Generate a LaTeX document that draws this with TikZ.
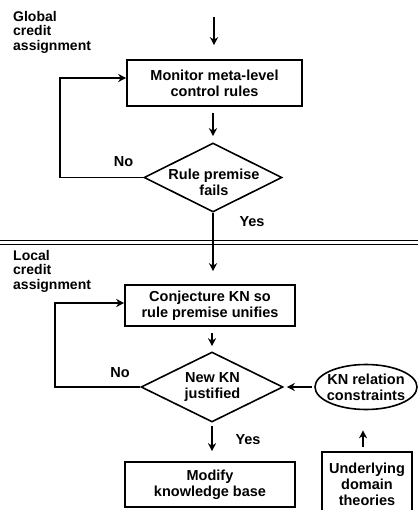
\documentclass[tikz,border=0pt]{standalone}
\usepackage{fontspec}
\setmainfont{Liberation Sans}
\usetikzlibrary{shapes.geometric,arrows.meta,calc}
\begin{document}
\begin{tikzpicture}[x=1pt,y=-1pt,
  every node/.style={font=\fontsize{14.5}{16}\selectfont\bfseries, align=center, inner sep=0pt},
  procbox/.style={draw, line width=1.6pt, rectangle},
  decbox/.style={draw, line width=1.6pt, diamond},
  ellbox/.style={draw, line width=1.6pt, ellipse},
  lbl/.style={align=left, anchor=north west, font=\fontsize{14}{14.5}\selectfont\bfseries},
  arr/.style={line width=1.5pt, -{Stealth[length=8pt,width=8pt,inset=2.5pt]}},
  sep/.style={line width=1.8pt}
]
\useasboundingbox (0,0) rectangle (418,510);

% labels
\node[lbl] (glab) at (13,11) {Global\\credit\\assignment};
\node[lbl] (llab) at (13,250) {Local\\credit\\assignment};

% top section
\coordinate (start) at (214,17);
\node[procbox, minimum width=175pt, minimum height=46pt] (b1) at (214.5,83) {Monitor meta-level\\control rules};
\node[decbox, minimum width=138pt, minimum height=69pt] (d1) at (213,177.5) {};
\node (d1t) at (214,182.5) {Rule premise\\fails};
\node (no1) at (123.5,162) {No};
\node (yes1) at (252,222) {Yes};

% separator
\coordinate (sl1) at (0,240.5);
\coordinate (sr1) at (418,240.5);
\coordinate (sl2) at (0,244.5);
\coordinate (sr2) at (418,244.5);
\draw[sep] (sl1) -- (sr1);
\draw[sep] (sl2) -- (sr2);

% bottom section
\node[procbox, minimum width=170pt, minimum height=41pt] (b2) at (210,305.5) {Conjecture KN so\\rule premise unifies};
\node[decbox, minimum width=142pt, minimum height=70pt] (d2) at (212,387) {};
\node (d2t) at (212.5,387) {New KN\\justified};
\node (no2) at (120,373) {No};
\node (yes2) at (248,440) {Yes};
\node[ellbox, minimum width=102pt, minimum height=45pt] (e1) at (366,387) {};
\node (e1t) at (e1.center) {KN relation\\constraints};
\node[procbox, minimum width=170pt, minimum height=45pt] (b3) at (210,484.5) {Modify\\knowledge base};
\node[procbox, minimum width=90pt, minimum height=61pt] (b4) at (367,482.5) {};
\node (b4t) at (367,484) {Underlying\\domain\\theories};

% connectors
\draw[arr, shorten >=14pt] (start) -- (b1.north -| start);
\draw[arr, shorten <=6pt, shorten >=6pt] (b1.south -| d1) -- (d1.north);
\draw[arr] (d1.west) -- ++(-83,0) |- ($(b1.west)+(0,-5)$);
\draw[arr, shorten >=13pt] (d1.south) -- (b2.north -| d1.south);
\draw[arr, shorten <=6pt, shorten >=5pt] (b2.south -| d2) -- (d2.north);
\draw[arr] (d2.west) -- ++(-85,0) |- ($(b2.west)+(0,-2.5)$);
\draw[arr, shorten <=2pt, shorten >=3pt] (e1.west) -- (d2.east);
\draw[arr, shorten <=3pt, shorten >=10pt] (d2.south) -- (d2.south |- b3.north);
\draw[arr, shorten <=4pt, shorten >=20pt] (b4.north -| 363,0) -- (e1.south -| 363,0);
\end{tikzpicture}
\end{document}
